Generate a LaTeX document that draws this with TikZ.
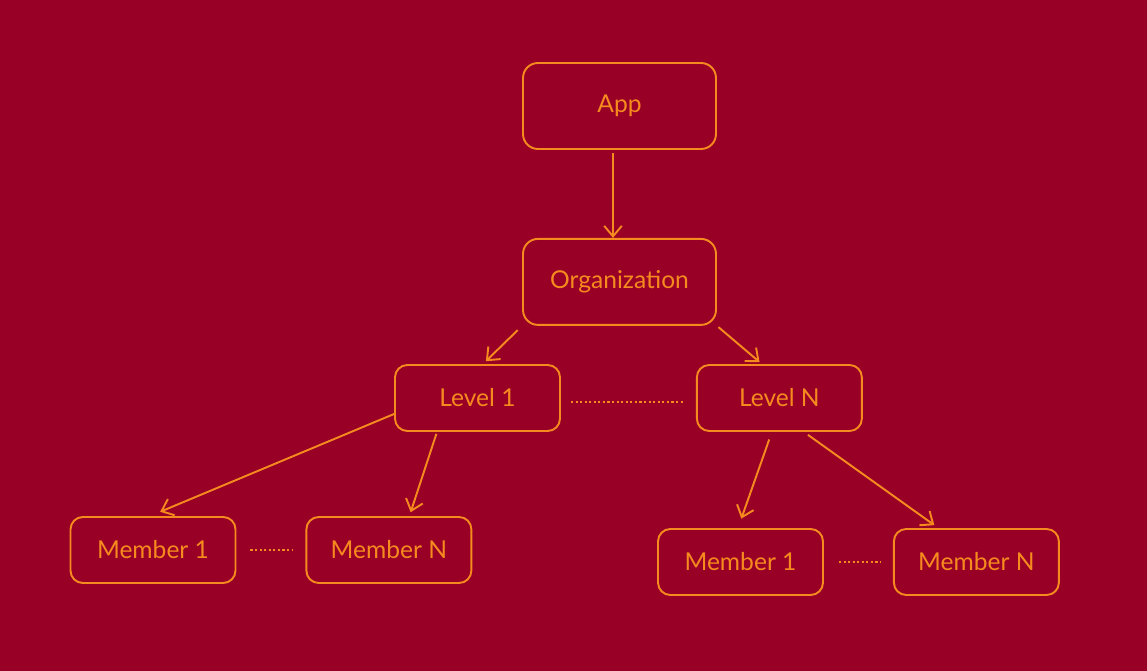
\documentclass[tikz,border=0pt]{standalone}
\usepackage{fontspec}
\setmainfont{Lato}
\usetikzlibrary{arrows.meta,positioning}
\definecolor{bgred}{HTML}{990026}
\definecolor{lineorange}{HTML}{F58A1F}

\begin{document}
\begin{tikzpicture}[x=0.02cm, y=-0.02cm,
  block/.style={draw=lineorange, line width=1.1pt, rounded corners=7pt, align=center, text=lineorange, font=\fontsize{14}{16}\selectfont},
  bigblock/.style={block, minimum width=3.86cm, minimum height=1.72cm, rounded corners=8.5pt},
  smallblock/.style={block, minimum width=3.3cm, minimum height=1.32cm},
  arr/.style={-{Straight Barb[length=6pt,width=10pt]}, line width=1.1pt, draw=lineorange},
  gap/.style={dash pattern=on 1.2pt off 1.4pt, line width=1.1pt, draw=lineorange}
]
  \fill[bgred] (0,0) rectangle (1147,671);

  \node[bigblock] (app) at (619.5,106) {App};
  \node[bigblock, below=1.76cm of app] (org) {Organization};
  \node[smallblock] (lvl1) at (477.5,398) {Level 1};
  \node[smallblock, right=2.7cm of lvl1] (lvlN) {Level N};
  \node[smallblock] (mem1) at (153,550) {Member 1};
  \node[smallblock, right=1.38cm of mem1] (memN) {Member N};
  \node[smallblock] (memR1) at (740.5,562) {Member 1};
  \node[smallblock, right=1.38cm of memR1] (memRN) {Member N};

  \draw[arr, shorten <=0.06cm] ([xshift=-0.13cm]app.south) -- ([xshift=-0.13cm]org.north);
  \draw[arr, shorten <=0.12cm, shorten >=0.08cm] (org.south west) -- ([xshift=0.11cm]lvl1.north);
  \draw[arr, shorten <=0.04cm, shorten >=0.06cm] (org.south east) -- ([xshift=-0.35cm]lvlN.north);
  \draw[arr, shorten >=0.22cm] ([yshift=-0.32cm]lvl1.west) -- ([xshift=-0.06cm]mem1.north);
  \draw[arr, shorten <=0.04cm, shorten >=0.08cm] ([xshift=-0.81cm]lvl1.south) -- ([xshift=0.41cm]memN.north);
  \draw[arr, shorten <=0.16cm, shorten >=0.2cm] ([xshift=-0.15cm]lvlN.south) -- ([xshift=-0.05cm]memR1.north);
  \draw[arr, shorten <=0.1cm, shorten >=0.1cm] ([xshift=0.49cm]lvlN.south) -- ([xshift=-0.76cm]memRN.north);

  \draw[gap, shorten <=0.2cm, shorten >=0.24cm] ([yshift=-0.08cm]lvl1.east) -- ([yshift=-0.08cm]lvlN.west);
  \draw[gap, shorten <=0.28cm, shorten >=0.24cm] (mem1.east) -- (memN.west);
  \draw[gap, shorten <=0.3cm, shorten >=0.24cm] (memR1.east) -- (memRN.west);
\end{tikzpicture}
\end{document}
